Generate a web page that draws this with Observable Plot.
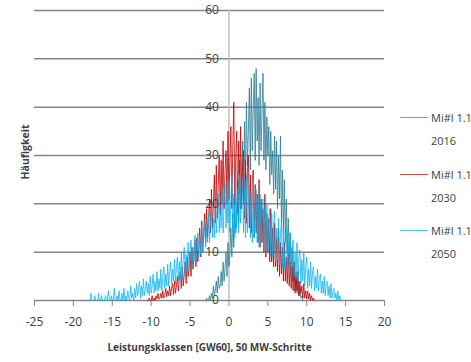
<!DOCTYPE html>
<html>
<head>
<meta charset="utf-8">
<script src="https://cdn.jsdelivr.net/npm/d3@7"></script>
<script src="https://cdn.jsdelivr.net/npm/@observablehq/plot@0.6"></script>
<style>
  html, body { margin: 0; padding: 0; background: #fff; }
  #wrap { position: relative; width: 471px; height: 362px; font-family: "Open Sans", sans-serif; color: #404040; }
  .leg { position: absolute; left: 400px; font-size: 11px; line-height: 23px; }
  .leg .sw { position: absolute; left: 0; top: 0; width: 28px; height: 0; border-top: 1.5px solid; }
  .leg .tx { position: absolute; left: 31px; top: -11px; white-space: nowrap; }
  .ylab { position: absolute; left: 25px; top: 152px; transform: translate(-50%, -50%) rotate(-90deg); font-weight: bold; font-size: 10.5px; white-space: nowrap; }
</style>
</head>
<body>
<div id="wrap"></div>
<script>
const step = 0.125; // GW per sample
const series2016Start = -3.0;
const series2016 = [0,0.5,0,0,1,0,1.5,0.5,3,1,2,4,1.5,5,2.5,3,6,3,8,4,7,10,5,12,7,10,15,9,18,11,21,14,17,25,16,29,19,24,33,20,37,25,41,28,35,44,27,46,31,40,47,29,48,33,42,28,45,31,39,47,29,41,27,38,30,36,24,35,26,31,22,34,23,33,19,30,21,34,16,27,14,25,12,21,10,17,8,14,5,11,4,8,2,6,1.5,4,1,2.5,0.5,1,0];
const series2030Start = -10.5;
const series2030 = [0,0,0.5,0,0,1,0,0.5,0,1,0.3,1.5,0.3,0.5,1.5,0.5,2,0.5,1,2.5,0.8,2,1,3,1,2.5,3.5,1.2,4,1.5,3,5,2,4.5,6,2.5,7,3,5.5,8,3.5,9,5,7,10,5,11,6.5,9,12.5,7,13,8,11,15,9,16.5,10,14,18,12,19,13,17,21,14,23,15,20,26,16,28,17,24,30,18,29,20,33,19,27,31,20,35,21,29,36,19,32,41,20,30,35,18,33,22,36,19,28,31,17,29,16,27,30,15,26,14,25,27,13,24,14,22,12,25,11,21,12,19,10,22,9,18,10,17,8,19,8,15,7,16,7,13,6,15,5,12,5.5,11,4,12,4,9,3.5,10,3,8,2.5,7,2,8,1.5,5,2,6,1,4,1.5,3,0.5,3.5,0.5,2,0.3,2,0.3,1.5,0,1,0,0.5,0];
const series2050Start = -18.0;
const series2050 = [0,0,1.5,0,0,0,1,0,0,0,1.5,0,0,1,0,0,0,1,0,0,2,0,0,1,0,0,2.5,0,0,1,0,2,0,0,1.5,0,2.5,0,1,0,2,0.5,0,3,0.5,1.5,0,2.5,0.5,3.5,1,2,4,0.5,3,1,4.5,1,2.5,4,1.5,3.5,1,5,1.5,3,5.5,1.5,4,2,6,2,4.5,2.5,6.5,2,5,7,2.5,5.5,3,7.5,3,6,8,3.5,6.5,4,8.5,3.5,7,9,4,8,4.5,10,5,8.5,11,5,9.5,6,12,6,10,12.5,7,11,8,13.5,8,12,14,9,13,9.5,15.5,10,14,16.5,11,15,12,18,12,16,19,13,17,13,20.5,14,18,22,14,19,15,23,14,20,24,15,21,16,25,14,21,26,15,22,13,27,15,23,14,26,16,21,25,14,23,13,26,14,20,24,13,22,12,25,13,19,23,12,21,11,22,12,18,21,11,19,10,20,10.5,17,19,9.5,18,9,16,18.5,8,15,8.5,17,7.5,14,16,7,15,6.5,13,15,6,12,6.5,14,5,11,12.5,5,10,4.5,12,4,9,10.5,3.5,8.5,4,10,3,7,9,2.5,6.5,3,8,2.5,6,7,2,5,2.5,6.5,2,4.5,5.5,1.5,4,1.5,5,1,3.5,4,1,3,0.5,3.5,0.5,2,2.5,0.5,1.5,0,2,0,1,0,0];

const seriesNames = ["Mi#l 1.1 2016", "Mi#l 1.1 2030", "Mi#l 1.1 2050"];
const seriesColors = ["#2b7d93", "#c00000", "#00b0f0"];
const xTicks = [-25,-20,-15,-10,-5,0,5,10,15,20];
const yTicks = [0,10,20,30,40,50,60];
const xLabel = "Leistungsklassen [GW60], 50 MW-Schritte";
const yLabel = "Häufigkeit";

function toRows(start, vals) { return vals.map((v, i) => ({x: start + i * step, y: v})); }
const rows2016 = toRows(series2016Start, series2016);
const rows2030 = toRows(series2030Start, series2030);
const rows2050 = toRows(series2050Start, series2050);

const font = '"Open Sans", sans-serif';

const chart = Plot.plot({
  width: 471,
  height: 362,
  marginLeft: 34,
  marginRight: 87,
  marginTop: 10,
  marginBottom: 62,
  style: {fontFamily: font, color: "#404040", background: "#fff", overflow: "visible"},
  x: {domain: [-25, 20]},
  y: {domain: [0, 60], axis: null},
  marks: [
    Plot.ruleY(yTicks, {stroke: "#868686", strokeWidth: 1.5}),
    Plot.ruleX([0], {y1: 0, y2: 60, stroke: "#bfbfbf", strokeWidth: 1.5}),
    Plot.axisX({ticks: xTicks, tickSize: 6, tickPadding: 11, stroke: "#868686", fontSize: 12, label: null, tickFormat: d => String(d).replace("−", "-")}),
    Plot.line(rows2016, {x: "x", y: "y", stroke: seriesColors[0], strokeWidth: 0.9, strokeOpacity: 0.9}),
    Plot.line(rows2030, {x: "x", y: "y", stroke: seriesColors[1], strokeWidth: 0.9, strokeOpacity: 0.88}),
    Plot.line(rows2050, {x: "x", y: "y", stroke: seriesColors[2], strokeWidth: 0.9, strokeOpacity: 0.82}),
    Plot.text(yTicks, {x: 0, y: d => d, text: d => String(d), textAnchor: "end", dx: -10, fontSize: 12, fill: "#404040"}),
    Plot.text([xLabel], {frameAnchor: "bottom", dy: 50, fontWeight: "bold", fontSize: 10, fill: "#404040"})
  ]
});

const wrap = document.getElementById("wrap");
wrap.appendChild(chart);

const yl = document.createElement("div");
yl.className = "ylab";
yl.textContent = yLabel;
wrap.appendChild(yl);

const legTops = [117, 174, 230];
seriesNames.forEach((name, i) => {
  const parts = name.split(" ");
  const d = document.createElement("div");
  d.className = "leg";
  d.style.top = legTops[i] + "px";
  d.innerHTML = `<div class="sw" style="border-color:${seriesColors[i]};opacity:0.7"></div><div class="tx">${parts.slice(0,2).join(" ")}<br>${parts[2]}</div>`;
  wrap.appendChild(d);
});
</script>
</body>
</html>
